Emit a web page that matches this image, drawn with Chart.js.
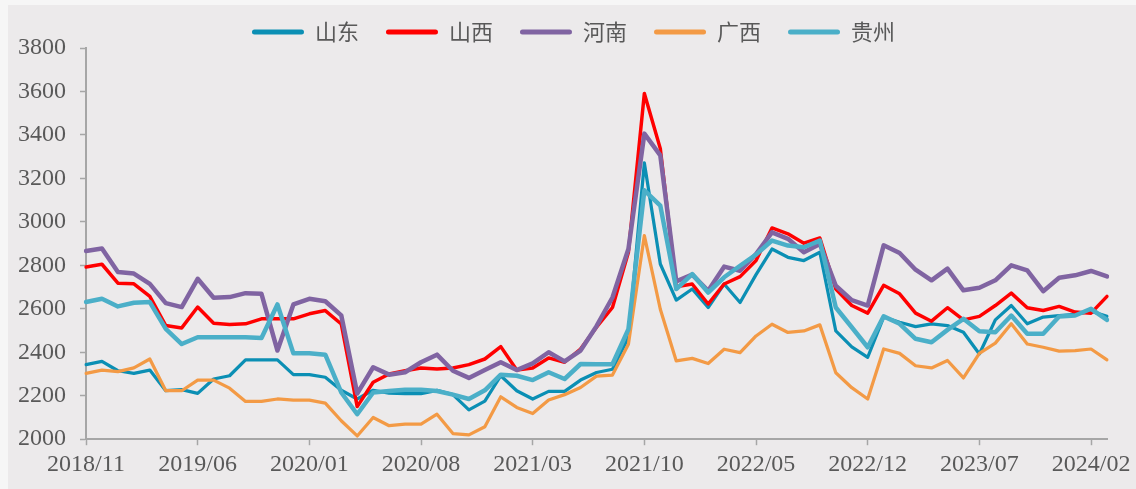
<!DOCTYPE html>
<html>
<head>
<meta charset="utf-8">
<script src="https://cdn.jsdelivr.net/npm/chart.js@4.4.1/dist/chart.umd.min.js"></script>
<style>
  html, body { margin: 0; padding: 0; background: #f6f6f6; }
  #frame { position: absolute; left: 8px; top: 5px; width: 1128px; height: 484px; background: #eceaeb; overflow: hidden; }
  #priceChart { position: absolute; left: 0; top: -11px; }
</style>
</head>
<body>
<div id="frame"><canvas id="priceChart" width="1128" height="495"></canvas></div>
<script>
"use strict";

const months = [
  "2018/11", "2018/12",
  "2019/01", "2019/02", "2019/03", "2019/04", "2019/05", "2019/06", "2019/07", "2019/08", "2019/09", "2019/10", "2019/11", "2019/12",
  "2020/01", "2020/02", "2020/03", "2020/04", "2020/05", "2020/06", "2020/07", "2020/08", "2020/09", "2020/10", "2020/11", "2020/12",
  "2021/01", "2021/02", "2021/03", "2021/04", "2021/05", "2021/06", "2021/07", "2021/08", "2021/09", "2021/10", "2021/11", "2021/12",
  "2022/01", "2022/02", "2022/03", "2022/04", "2022/05", "2022/06", "2022/07", "2022/08", "2022/09", "2022/10", "2022/11", "2022/12",
  "2023/01", "2023/02", "2023/03", "2023/04", "2023/05", "2023/06", "2023/07", "2023/08", "2023/09", "2023/10", "2023/11", "2023/12",
  "2024/01", "2024/02", "2024/03",
];

const seriesNames = ["山东", "山西", "河南", "广西", "贵州"];

const shandong = [
  2343, 2358, 2315, 2303, 2318, 2223, 2228, 2211, 2277, 2292, 2365, 2365, 2365, 2297, 2297, 2285,
  2225, 2185, 2225, 2212, 2210, 2210, 2225, 2205, 2135, 2175, 2292, 2223, 2185, 2220, 2220, 2272,
  2307, 2322, 2468, 3271, 2806, 2640, 2691, 2606, 2714, 2629, 2757, 2875, 2837, 2822, 2860, 2498,
  2425, 2377, 2562, 2538, 2518, 2531, 2523, 2492, 2392, 2549, 2615, 2531, 2562, 2569, 2574, 2589, 2565,
];
const shanxi = [
  2792, 2805, 2718, 2715, 2657, 2523, 2512, 2608, 2534, 2528, 2531, 2554, 2554, 2554, 2577, 2592,
  2530, 2150, 2262, 2300, 2315, 2328, 2323, 2328, 2343, 2369, 2426, 2318, 2328, 2374, 2354, 2415,
  2515, 2606, 2860, 3591, 3337, 2701, 2714, 2622, 2714, 2748, 2822, 2972, 2945, 2902, 2926, 2691,
  2615, 2580, 2708, 2669, 2580, 2543, 2605, 2549, 2565, 2615, 2672, 2605, 2592, 2611, 2585, 2580, 2657,
];
const henan = [
  2866, 2877, 2769, 2762, 2715, 2626, 2608, 2738, 2651, 2654, 2672, 2669, 2408, 2620, 2646, 2635,
  2570, 2210, 2331, 2297, 2308, 2354, 2389, 2315, 2282, 2318, 2354, 2318, 2349, 2400, 2358, 2408,
  2520, 2652, 2875, 3406, 3306, 2726, 2757, 2683, 2794, 2775, 2852, 2952, 2922, 2860, 2898, 2706,
  2640, 2615, 2892, 2857, 2780, 2731, 2785, 2685, 2697, 2731, 2800, 2777, 2681, 2743, 2754, 2774, 2749,
];
const guangxi = [
  2303, 2318, 2311, 2328, 2369, 2223, 2223, 2272, 2272, 2235, 2174, 2174, 2185, 2180, 2180, 2166,
  2085, 2015, 2100, 2062, 2069, 2069, 2115, 2026, 2020, 2057, 2195, 2146, 2118, 2180, 2205, 2238,
  2290, 2295, 2437, 2937, 2598, 2360, 2372, 2348, 2414, 2398, 2475, 2529, 2491, 2498, 2526, 2306,
  2237, 2185, 2415, 2395, 2338, 2328, 2362, 2282, 2395, 2442, 2531, 2438, 2423, 2405, 2408, 2415, 2365,
];
const guizhou = [
  2631, 2646, 2611, 2628, 2631, 2508, 2438, 2469, 2469, 2469, 2469, 2466, 2620, 2395, 2395, 2389,
  2215, 2115, 2215, 2222, 2228, 2228, 2222, 2205, 2185, 2225, 2297, 2292, 2272, 2308, 2277, 2346,
  2345, 2345, 2506, 3145, 3075, 2691, 2760, 2675, 2745, 2798, 2849, 2914, 2891, 2883, 2914, 2606,
  2515, 2423, 2565, 2531, 2462, 2446, 2503, 2554, 2497, 2492, 2569, 2485, 2485, 2565, 2569, 2600, 2549,
];

const colors = ["#0b8fb4", "#ff0000", "#8064a2", "#f39a45", "#4bafc8"];
const widths = [3.25, 3.5, 4.5, 3.25, 4.5];
const values = [shandong, shanxi, henan, guangxi, guizhou];

const axisGrey = "#a6a6a6";
const textGrey = "#595959";
const labelStep = 7;

// squeeze the legend box so the plot starts where the original does,
// and nudge the row a little to the right
const legendFit = {
  id: "legendFit",
  beforeInit(chart) {
    const fit = chart.legend.fit;
    chart.legend.fit = function () {
      fit.call(this);
      this.height = 54;
      this.lineWidths = this.lineWidths.map((w) => w - 22);
    };
  },
};

const datasets = seriesNames.map((name, i) => ({
  label: name,
  data: values[i],
  borderColor: colors[i],
  backgroundColor: colors[i],
  borderWidth: widths[i],
  pointRadius: 0,
  tension: 0,
  borderJoinStyle: "round",
  borderCapStyle: "round",
  order: seriesNames.length - i, // later series on top, like the original
}));

new Chart(document.getElementById("priceChart"), {
  type: "line",
  data: { labels: months, datasets: datasets },
  plugins: [legendFit],
  options: {
    responsive: false,
    animation: false,
    devicePixelRatio: 1,
    layout: { autoPadding: false, padding: { left: 10, right: 29, top: 0, bottom: 5 } },
    plugins: {
      tooltip: { enabled: false },
      legend: {
        position: "top",
        labels: {
          color: textGrey,
          font: { family: "'Noto Sans CJK SC', sans-serif", size: 22 },
          boxWidth: 52,
          boxHeight: 5,
          padding: 27,
          useBorderRadius: true,
          borderRadius: 2.5,
          sort: (a, b) => a.datasetIndex - b.datasetIndex,
          generateLabels(chart) {
            const items = Chart.defaults.plugins.legend.labels.generateLabels(chart);
            items.forEach((item) => {
              item.lineWidth = 0;
              item.fillStyle = colors[item.datasetIndex];
              item.borderRadius = 2.5;
            });
            return items;
          },
        },
      },
    },
    scales: {
      x: {
        offset: false,
        border: { display: true, color: axisGrey, width: 2 },
        grid: {
          drawOnChartArea: false,
          drawTicks: true,
          tickLength: 6,
          tickWidth: 1.5,
          tickColor: (ctx) => (ctx.index % labelStep === 0 ? axisGrey : "rgba(0,0,0,0)"),
        },
        ticks: {
          autoSkip: false,
          maxRotation: 0,
          padding: 5,
          color: textGrey,
          font: { family: "'Liberation Serif', serif", size: 24 },
          callback: (value, index) => (index % labelStep === 0 ? months[index] : ""),
        },
      },
      y: {
        min: 2000,
        max: 3800,
        afterFit: (scale) => {
          scale.width = 68;
        },
        border: { display: true, color: axisGrey, width: 2 },
        grid: {
          drawOnChartArea: false,
          drawTicks: true,
          tickLength: 6,
          tickWidth: 1.5,
          tickColor: axisGrey,
        },
        ticks: {
          stepSize: 200,
          padding: 14,
          color: textGrey,
          font: { family: "'Liberation Serif', serif", size: 24 },
          callback: (value) => String(value),
        },
      },
    },
  },
});
</script>
</body>
</html>
